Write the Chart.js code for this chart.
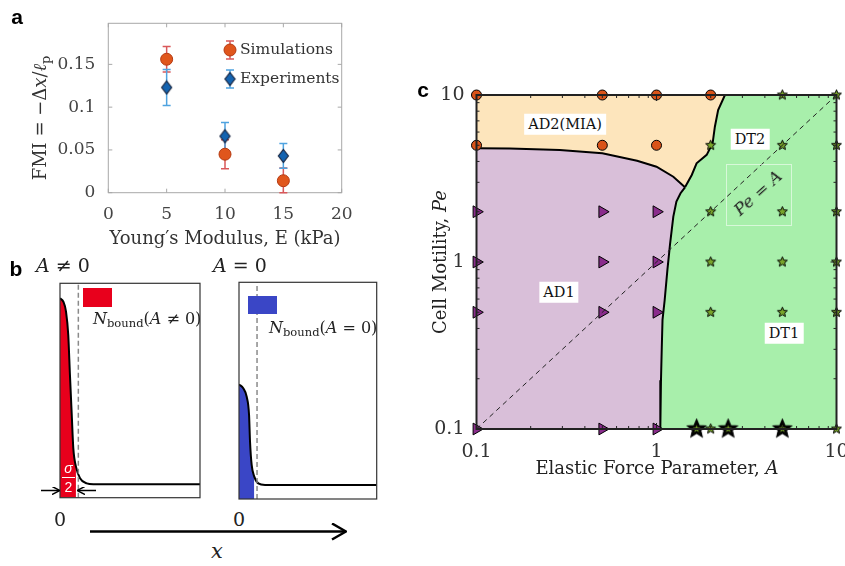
<!DOCTYPE html>
<html>
<head>
<meta charset="utf-8">
<script src="https://cdn.jsdelivr.net/npm/chart.js@4.4.1/dist/chart.umd.min.js"></script>
<style>
  html, body { margin: 0; padding: 0; background: #fff; overflow: hidden; }
  #wrap { position: relative; width: 845px; height: 566px; overflow: hidden;
          font-family: "DejaVu Serif", serif; color: #222; }
  #wrap canvas { position: absolute; }
  .t { position: absolute; white-space: nowrap; line-height: 1; transform: translate(-50%, -50%); }
  .l { position: absolute; white-space: nowrap; line-height: 1; transform: translateY(-50%); }
  .panel { position: absolute; font-family: "Liberation Sans", Arial, sans-serif; font-weight: bold;
           font-size: 21px; line-height: 1; color: #000; transform: translate(-50%, -50%); }
  .tag { position: absolute; background: #fff; font-size: 14.5px; line-height: 1; padding: 3px 4px;
         transform: translate(-50%, -50%); white-space: nowrap; color: #111; }
  sub { font-size: 0.72em; vertical-align: -0.3em; line-height: 0; }
  i { font-style: italic; }
</style>
</head>
<body>
<div id="wrap">
  <canvas id="cA" width="360" height="250" style="left:0px;top:0px"></canvas>
  <canvas id="cB1" width="160" height="230" style="left:50px;top:275px"></canvas>
  <canvas id="cB2" width="160" height="230" style="left:229px;top:275px"></canvas>
  <canvas id="cC" width="460" height="440" style="left:420px;top:60px"></canvas>

  <!-- panel a text -->
  <div class="panel" style="left:17px;top:16px">a</div>
  <div class="t" style="left:40px;top:118px;font-size:18px;color:#333;transform:translate(-50%,-50%) rotate(-90deg)">FMI = −Δ<i>x</i>/<i>ℓ</i><sub>p</sub></div>
  <div class="t" style="left:225px;top:238px;font-size:18px;color:#333">Young′s Modulus, E (kPa)</div>

  <!-- panel b text -->
  <div class="panel" style="left:16px;top:268px">b</div>
  <div class="t" style="left:63px;top:265px;font-size:19px"><i>A</i> ≠ 0</div>
  <div class="t" style="left:240px;top:265px;font-size:19px"><i>A</i> = 0</div>
  <div style="position:absolute;left:83px;top:288px;width:29px;height:19px;background:#E8001C"></div>
  <div style="position:absolute;left:248px;top:296px;width:29px;height:18px;background:#3A46C6"></div>
  <div class="l" style="left:93px;top:319px;font-size:16px"><i>N</i><sub>bound</sub>(<i>A</i> ≠ 0)</div>
  <div class="l" style="left:269px;top:328px;font-size:16px"><i>N</i><sub>bound</sub>(<i>A</i> = 0)</div>
  <div style="position:absolute;left:61px;top:461px;width:15px;text-align:center;color:#fff;font-family:'Liberation Sans',sans-serif;font-size:14px;line-height:1">
    <div style="font-style:italic">σ</div>
    <div style="border-top:1.5px solid #fff;margin:2px 1px 2px 1px"></div>
    <div>2</div>
  </div>
  <div class="t" style="left:60px;top:519px;font-size:19px">0</div>
  <div class="t" style="left:239px;top:519px;font-size:19px">0</div>
  <div class="t" style="left:217px;top:551px;font-size:21px"><i>x</i></div>
  <svg width="845" height="566" style="position:absolute;left:0;top:0;pointer-events:none">
    <defs>
      <marker id="ah" markerWidth="8" markerHeight="8" refX="7" refY="4" orient="auto" markerUnits="userSpaceOnUse">
        <path d="M0,0 L8,4 L0,8" fill="none" stroke="#000" stroke-width="1.5"/>
      </marker>
      <marker id="ahBig" markerWidth="16" markerHeight="18" refX="15" refY="9" orient="auto" markerUnits="userSpaceOnUse">
        <path d="M1,1 L15,9 L1,17" fill="none" stroke="#000" stroke-width="2.5"/>
      </marker>
    </defs>
    <line x1="41" y1="490.5" x2="59" y2="490.5" stroke="#000" stroke-width="1.5" marker-end="url(#ah)"/>
    <line x1="96" y1="490.5" x2="78" y2="490.5" stroke="#000" stroke-width="1.5" marker-end="url(#ah)"/>
    <line x1="90" y1="531.5" x2="346" y2="531.5" stroke="#000" stroke-width="2.5" marker-end="url(#ahBig)"/>
  </svg>

  <!-- panel c text -->
  <div class="panel" style="left:423px;top:89px">c</div>
  <div class="t" style="left:440px;top:262px;font-size:18px;transform:translate(-50%,-50%) rotate(-90deg)">Cell Motility, <i>Pe</i></div>
  <div class="t" style="left:657px;top:468px;font-size:18px">Elastic Force Parameter, <i>A</i></div>
  <div class="tag" style="left:565px;top:124px">AD2(MIA)</div>
  <div class="tag" style="left:750px;top:139px">DT2</div>
  <div class="tag" style="left:559px;top:292px">AD1</div>
  <div class="tag" style="left:784px;top:333px">DT1</div>
  <div style="position:absolute;left:726px;top:164px;width:64px;height:60px;border:1px solid rgba(255,255,255,0.55)"></div>
  <div class="t" style="left:758px;top:193px;font-size:17px;transform:translate(-50%,-50%) rotate(-42deg)"><i>Pe</i> = <i>A</i></div>
</div>

<script>
// ---------- panel a: FMI vs Young's modulus
const youngE  = [5, 10, 15];
const simFMI  = [0.156, 0.045, 0.014];
const simErr  = [0.015, 0.017, 0.015];
const expFMI  = [0.123, 0.066, 0.043];
const expErr  = [0.021, 0.016, 0.0145];
const aXTicks = [0, 5, 10, 15, 20];
const aYTicks = [0, 0.05, 0.1, 0.15];

// ---------- panel b: density profiles (x and y as fractions of the box)
const profX1 = [0, 0.024, 0.043, 0.059, 0.071, 0.084, 0.095, 0.114, 0.143, 0.191, 0.238, 1];
const profY1 = [0.93, 0.914, 0.868, 0.759, 0.573, 0.386, 0.231, 0.145, 0.091, 0.067, 0.063, 0.063];
const profX2 = [0, 0.031, 0.056, 0.073, 0.080, 0.092, 0.111, 0.140, 0.189, 1];
const profY2 = [0.529, 0.511, 0.472, 0.388, 0.265, 0.157, 0.103, 0.072, 0.065, 0.065];
const boundEdge = 0.12;   // sigma/2 : end of the filled (bound) part
const dashX     = 0.131;  // grey dashed marker

// ---------- panel c: phase diagram
const ad2A  = [0.1, 0.5, 1, 2, 0.1, 0.5, 1];
const ad2Pe = [10, 10, 10, 10, 5, 5, 5];
const ad1A  = [0.1, 0.5, 1, 0.1, 0.5, 1, 0.1, 0.5, 1, 0.1, 0.5, 1];
const ad1Pe = [2, 2, 2, 1, 1, 1, 0.5, 0.5, 0.5, 0.1, 0.1, 0.1];
const dtA   = [5, 10, 2, 5, 10, 2, 5, 10, 2, 5, 10, 2, 5, 10, 2, 10];
const dtPe  = [10, 10, 5, 5, 5, 2, 2, 2, 1, 1, 1, 0.5, 0.5, 0.5, 0.1, 0.1];
const dtBigA  = [1.67, 2.5, 5];
const dtBigPe = [0.1, 0.1, 0.1];
// phase boundaries
const topCurveA  = [0.1, 0.153, 0.29, 0.5, 0.78, 1.0, 1.24, 1.44];
const topCurvePe = [4.8, 4.78, 4.69, 4.48, 4.04, 3.72, 3.24, 2.8];
const ad2EdgeA   = [1.44, 1.57, 1.67, 1.90, 2.05, 2.11, 2.2, 2.4];
const ad2EdgePe  = [2.8, 3.32, 3.9, 4.38, 5.14, 6.46, 8.13, 10];
const ad1EdgeA   = [1.44, 1.36, 1.29, 1.24, 1.19, 1.15, 1.11, 1.08, 1.07, 1.059, 1.05];
const ad1EdgePe  = [2.8, 2.58, 2.30, 1.87, 1.29, 0.90, 0.59, 0.45, 0.31, 0.196, 0.1];
const cTicks = [0.1, 0.2, 0.3, 0.4, 0.5, 0.6, 0.7, 0.8, 0.9, 1, 2, 3, 4, 5, 6, 7, 8, 9, 10];
const cMajor = [0.1, 1, 10];

const pts = (xs, ys) => xs.map((x, i) => ({x: x, y: ys[i]}));
const serif = 'DejaVu Serif';

// marker images
function drawStar(g, c, outer, inner, fill, stroke, lw) {
  g.beginPath();
  for (let k = 0; k < 10; k++) {
    const r = k % 2 ? inner : outer;
    const ang = -Math.PI / 2 + k * Math.PI / 5;
    g.lineTo(c + r * Math.cos(ang), c + r * Math.sin(ang));
  }
  g.closePath();
  g.fillStyle = fill; g.fill();
  g.lineWidth = lw; g.strokeStyle = stroke; g.stroke();
}
function starImg(outer, withCore) {
  const size = Math.ceil(2 * outer + 4);
  const cv = document.createElement('canvas');
  cv.width = cv.height = size;
  const g = cv.getContext('2d');
  if (withCore) {
    drawStar(g, size / 2, outer, outer * 0.45, '#000', '#000', 1.2);
    drawStar(g, size / 2, outer * 0.5, outer * 0.22, '#7AA62A', '#000', 0.8);
  } else {
    drawStar(g, size / 2, outer, outer * 0.45, '#7AA62A', '#000', 1);
  }
  return cv;
}
function diamondImg(w, h) {
  const cv = document.createElement('canvas');
  cv.width = w + 3; cv.height = h + 3;
  const g = cv.getContext('2d');
  const cx = cv.width / 2, cy = cv.height / 2;
  g.beginPath();
  g.moveTo(cx, cy - h / 2); g.lineTo(cx + w / 2, cy); g.lineTo(cx, cy + h / 2); g.lineTo(cx - w / 2, cy);
  g.closePath();
  g.fillStyle = '#1463B0'; g.fill();
  g.lineWidth = 1.2; g.strokeStyle = '#1B2741'; g.stroke();
  return cv;
}
const diamond = diamondImg(10, 13);

// inward tick marks and a box, MATLAB style
function boxTicks(chart, color, width, majorLen, minorLen, isMajor) {
  const {ctx, chartArea: ca, scales: {x, y}} = chart;
  ctx.save();
  ctx.strokeStyle = color;
  ctx.lineWidth = 1;
  ctx.beginPath();
  x.ticks.forEach(t => {
    const px = x.getPixelForValue(t.value);
    const len = isMajor(t.value) ? majorLen : minorLen;
    ctx.moveTo(px, ca.bottom); ctx.lineTo(px, ca.bottom - len);
    ctx.moveTo(px, ca.top); ctx.lineTo(px, ca.top + len);
  });
  y.ticks.forEach(t => {
    const py = y.getPixelForValue(t.value);
    const len = isMajor(t.value) ? majorLen : minorLen;
    ctx.moveTo(ca.left, py); ctx.lineTo(ca.left + len, py);
    ctx.moveTo(ca.right, py); ctx.lineTo(ca.right - len, py);
  });
  ctx.stroke();
  ctx.lineWidth = width;
  ctx.strokeRect(ca.left, ca.top, ca.width, ca.height);
  ctx.restore();
}

const fixedScales = (yW, xH) => ({
  y: {afterFit: s => { s.width = yW; }},
  x: {afterFit: s => { s.height = xH; }}
});

// ---------------- panel a ----------------
const errorBars = {
  id: 'errorBars',
  beforeDatasetsDraw(chart) {
    const {ctx, scales: {x, y}} = chart;
    const sets = [[simFMI, simErr, '#D9585A'], [expFMI, expErr, '#4FA3E0']];
    ctx.save();
    ctx.lineWidth = 1.5;
    sets.forEach(([vals, errs, col]) => {
      ctx.strokeStyle = col;
      ctx.beginPath();
      youngE.forEach((e, i) => {
        const px = x.getPixelForValue(e);
        const top = y.getPixelForValue(vals[i] + errs[i]);
        const bot = y.getPixelForValue(Math.max(0, vals[i] - errs[i]));
        ctx.moveTo(px, top); ctx.lineTo(px, bot);
        ctx.moveTo(px - 4, top); ctx.lineTo(px + 4, top);
        ctx.moveTo(px - 4, bot); ctx.lineTo(px + 4, bot);
      });
      ctx.stroke();
    });
    ctx.restore();
  }
};
const legendA = {
  id: 'legendA',
  afterDatasetsDraw(chart) {
    const {ctx} = chart;
    const items = [
      ['Simulations', 230, 50, '#D9585A', 0],
      ['Experiments', 230, 79, '#4FA3E0', 1]
    ];
    ctx.save();
    items.forEach(([txt, px, py, col, idx]) => {
      ctx.strokeStyle = col; ctx.lineWidth = 1.5;
      ctx.beginPath();
      ctx.moveTo(px, py - 9); ctx.lineTo(px, py + 9);
      ctx.moveTo(px - 4, py - 9); ctx.lineTo(px + 4, py - 9);
      ctx.moveTo(px - 4, py + 9); ctx.lineTo(px + 4, py + 9);
      ctx.stroke();
      const ds = chart.data.datasets[idx];
      if (idx === 0) {
        ctx.fillStyle = ds.backgroundColor; ctx.strokeStyle = ds.borderColor; ctx.lineWidth = 1;
        ctx.beginPath(); ctx.arc(px, py, ds.pointRadius, 0, Math.PI * 2); ctx.fill(); ctx.stroke();
      } else {
        Chart.helpers.drawPoint(ctx, {pointStyle: ds.pointStyle, radius: ds.pointRadius, borderWidth: 0, rotation: 0}, px, py);
      }
      ctx.fillStyle = '#333';
      ctx.font = '15.5px "' + serif + '"';
      ctx.textBaseline = 'middle';
      ctx.fillText(txt, px + 10, py);
    });
    ctx.restore();
  }
};
const boxA = {
  id: 'boxA',
  beforeDatasetsDraw(chart) {
    boxTicks(chart, '#A8A8A8', 1, 4, 4, () => true);
  }
};
const sA = fixedScales(108.3, 57.3);
new Chart(document.getElementById('cA'), {
  type: 'scatter',
  data: {
    datasets: [
      {label: 'Simulations', data: pts(youngE, simFMI), pointStyle: 'circle', pointRadius: 6,
       backgroundColor: '#E0561C', borderColor: '#B53A12', borderWidth: 1},
      {label: 'Experiments', data: pts(youngE, expFMI), pointStyle: diamond, pointRadius: 6,
       backgroundColor: '#1463B0', borderColor: '#1B2741', borderWidth: 1}
    ]
  },
  options: {
    responsive: false, animation: false, events: [],
    layout: {padding: {left: 0, top: 23.3, right: 18.3, bottom: 0}},
    plugins: {legend: {display: false}, tooltip: {enabled: false}},
    scales: {
      x: {type: 'linear', min: 0, max: 20, grid: {display: false}, border: {display: false},
          afterBuildTicks: s => { s.ticks = aXTicks.map(v => ({value: v})); },
          afterFit: sA.x.afterFit,
          ticks: {padding: 4, color: '#444', autoSkip: false, maxRotation: 0, font: {family: serif, size: 17}}},
      y: {type: 'linear', min: 0, max: 0.198, grid: {display: false}, border: {display: false},
          afterBuildTicks: s => { s.ticks = aYTicks.map(v => ({value: v})); },
          afterFit: sA.y.afterFit,
          ticks: {padding: 5, color: '#444', autoSkip: false, font: {family: serif, size: 17},
                  callback: v => String(+v.toFixed(3))}}
    }
  },
  plugins: [boxA, errorBars, legendA]
});

// ---------------- panel b ----------------
const boxB = {
  id: 'boxB',
  afterDatasetsDraw(chart) {
    const {ctx, chartArea: ca} = chart;
    ctx.save();
    ctx.strokeStyle = '#333'; ctx.lineWidth = 1.2;
    ctx.strokeRect(ca.left, ca.top, ca.width, ca.height);
    ctx.restore();
  }
};
function profileChart(id, xs, ys, color, pad) {
  const curve = pts(xs, ys);
  return new Chart(document.getElementById(id), {
    type: 'scatter',
    data: {
      datasets: [
        {data: [{x: dashX, y: 0}, {x: dashX, y: 1}], showLine: true, borderColor: '#8A8A8A',
         borderWidth: 1.5, borderDash: [5, 3], pointRadius: 0, order: 0},
        {data: curve, showLine: true, borderColor: '#000', borderWidth: 2, pointRadius: 0,
         cubicInterpolationMode: 'monotone', order: 1},
        {data: curve.filter(p => p.x <= boundEdge), showLine: true, borderWidth: 0, pointRadius: 0,
         cubicInterpolationMode: 'monotone', fill: 'origin', backgroundColor: color, order: 2}
      ]
    },
    options: {
      responsive: false, animation: false, events: [],
      layout: {padding: pad},
      plugins: {legend: {display: false}, tooltip: {enabled: false}},
      scales: {
        x: {type: 'linear', min: 0, max: 1, display: false},
        y: {type: 'linear', min: 0, max: 1, display: false}
      }
    },
    plugins: [boxB]
  });
}
profileChart('cB1', profX1, profY1, '#E8001C', {left: 10, right: 10, top: 8.3, bottom: 7.3});
profileChart('cB2', profX2, profY2, '#3A46C6', {left: 10, right: 12.3, top: 7.3, bottom: 6});

// ---------------- panel c ----------------
const ad1Poly = [{x: 0.1, y: 0.1}].concat(pts(topCurveA, topCurvePe), pts(ad1EdgeA, ad1EdgePe).slice(1));
const ad2Poly = [{x: 0.1, y: 10}].concat(pts(ad2EdgeA, ad2EdgePe).reverse(), pts(topCurveA, topCurvePe).reverse().slice(1));
const regions = {
  id: 'regions',
  beforeDatasetsDraw(chart) {
    const {ctx, chartArea: ca, scales: {x, y}} = chart;
    ctx.save();
    ctx.fillStyle = '#A8EFAB';
    ctx.fillRect(ca.left, ca.top, ca.width, ca.height);
    [[ad1Poly, '#D9BFD9'], [ad2Poly, '#FDE5BC']].forEach(([poly, col]) => {
      ctx.beginPath();
      poly.forEach((p, i) => {
        const px = x.getPixelForValue(p.x), py = y.getPixelForValue(p.y);
        if (i === 0) ctx.moveTo(px, py); else ctx.lineTo(px, py);
      });
      ctx.closePath();
      ctx.fillStyle = col;
      ctx.fill();
    });
    ctx.restore();
  }
};
const boxC = {
  id: 'boxC',
  afterDatasetsDraw(chart) {
    boxTicks(chart, '#222', 2, 6, 3, v => cMajor.includes(v));
  }
};
const boundary = (xs, ys) => ({data: pts(xs, ys), showLine: true, borderColor: '#000', borderWidth: 2,
                               pointRadius: 0, order: 10});
const sC = fixedScales(56.5, 71);
new Chart(document.getElementById('cC'), {
  type: 'scatter',
  data: {
    datasets: [
      {data: [{x: 0.1, y: 0.1}, {x: 10, y: 10}], showLine: true, borderColor: '#222', borderWidth: 1,
       borderDash: [5, 4], pointRadius: 0, order: 0},
      {data: pts(ad2A, ad2Pe), pointStyle: 'circle', pointRadius: 5, backgroundColor: '#D95319',
       borderColor: '#000', borderWidth: 1, clip: false, order: 2},
      {data: pts(ad1A, ad1Pe), pointStyle: 'triangle', rotation: 90, pointRadius: 6.8, backgroundColor: '#8A2C8C',
       borderColor: '#000', borderWidth: 1, clip: false, order: 2},
      {data: pts(dtA, dtPe), pointStyle: starImg(5.2, false), clip: false, order: 2},
      {data: pts(dtBigA, dtBigPe), pointStyle: starImg(9.5, true), clip: false, order: 3},
      boundary(topCurveA, topCurvePe),
      boundary(ad2EdgeA, ad2EdgePe),
      boundary(ad1EdgeA, ad1EdgePe)
    ]
  },
  options: {
    responsive: false, animation: false, events: [],
    layout: {padding: {left: 0, top: 35, right: 43.5, bottom: 0}},
    plugins: {legend: {display: false}, tooltip: {enabled: false}},
    scales: {
      x: {type: 'logarithmic', min: 0.1, max: 10, grid: {display: false}, border: {display: false},
          afterBuildTicks: s => { s.ticks = cTicks.map(v => ({value: v})); },
          afterFit: sC.x.afterFit,
          ticks: {padding: 4, color: '#333', autoSkip: false, maxRotation: 0, font: {family: serif, size: 19},
                  callback: v => cMajor.includes(v) ? String(v) : ''}},
      y: {type: 'logarithmic', min: 0.1, max: 10, grid: {display: false}, border: {display: false},
          afterBuildTicks: s => { s.ticks = cTicks.map(v => ({value: v})); },
          afterFit: sC.y.afterFit,
          ticks: {padding: 4, color: '#333', autoSkip: false, font: {family: serif, size: 19},
                  callback: v => cMajor.includes(v) ? String(v) : ''}}
    }
  },
  plugins: [regions, boxC]
});
</script>
</body>
</html>
